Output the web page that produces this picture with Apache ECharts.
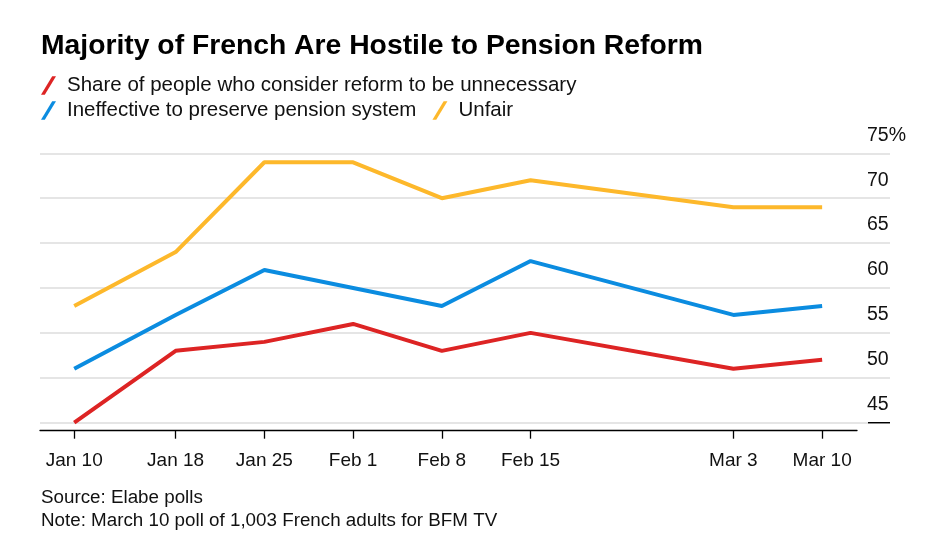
<!DOCTYPE html>
<html>
<head>
<meta charset="utf-8">
<script src="https://cdn.jsdelivr.net/npm/echarts@6/dist/echarts.min.js"></script>
<style>
html,body{margin:0;padding:0;background:#fff;}
#chart{width:941px;height:560px;}
</style>
</head>
<body>
<div id="chart"></div>
<script>
const dates = ['2023-01-10','2023-01-18','2023-01-25','2023-02-01','2023-02-08','2023-02-15','2023-03-03','2023-03-10'];
const dateLabels = ['Jan 10','Jan 18','Jan 25','Feb 1','Feb 8','Feb 15','Mar 3','Mar 10'];
const unnecessary = [45,53,54,56,53,55,51,52];
const ineffective = [51,57,62,60,58,63,57,58];
const unfair = [58,64,74,74,70,72,69,69];
const yTicks = [45,50,55,60,65,70,75];
const seriesNames = ['Share of people who consider reform to be unnecessary','Ineffective to preserve pension system','Unfair'];

const DAY = 86400000;
function toTime(s){ const p = s.split('-'); return Date.UTC(+p[0], +p[1]-1, +p[2]); }
const t0 = toTime(dates[0]);
const days = dates.map(s => Math.round((toTime(s)-t0)/DAY));   // day offsets from first poll
const pair = arr => days.map((d,i)=>[d, arr[i]]);
const labelOf = {}; days.forEach((d,i)=>{ labelOf[d]=dateLabels[i]; });

const FONT = '"Liberation Sans", Arial, sans-serif';
const slash = 'path://M0,16 L3.3,16 L13,0 L9.7,0 Z';
const colors = ['#dd2424','#0b8ce0','#fdb82b'];

const chart = echarts.init(document.getElementById('chart'), null, {renderer:'canvas'});
chart.setOption({
  animation:false,
  backgroundColor:'#ffffff',
  textStyle:{fontFamily:FONT},
  title:{
    text:'Majority of French Are Hostile to Pension Reform',
    left:41, top:32, padding:0,
    textStyle:{fontFamily:FONT, fontWeight:'bold', fontSize:28.3, color:'#000'}
  },
  legend:[
    {data:[seriesNames[0]], left:41, top:75, padding:0, itemWidth:15, itemHeight:19, icon:slash, itemGap:16,
     textStyle:{fontFamily:FONT, fontSize:20.5, color:'#111', padding:[0,0,0,6]}},
    {data:[seriesNames[1], seriesNames[2]], left:41, top:100, padding:0, itemWidth:15, itemHeight:19, icon:slash, itemGap:16,
     textStyle:{fontFamily:FONT, fontSize:20.5, color:'#111', padding:[0,0,0,6]}}
  ],
  grid:[
    {left:40, right:51, top:153.3, bottom:137.3},
    {left:40, right:84, top:153.3, bottom:137.3}
  ],
  xAxis:[
    {gridIndex:0, type:'value', min:0, max:1, show:false},
    {gridIndex:1, type:'value', min:days[0]-2.7, max:days[days.length-1]+2.75, offset:8,
     axisLine:{show:true, lineStyle:{color:'#000', width:1.3}},
     axisTick:{show:true, length:8, customValues:days, lineStyle:{color:'#000', width:1.3}},
     axisLabel:{customValues:days, margin:21, fontSize:19, color:'#111', fontFamily:FONT,
       formatter:function(v){ return labelOf[Math.round(v)] || ''; }},
     splitLine:{show:false}}
  ],
  yAxis:[
    {gridIndex:0, type:'value', min:45, max:75, interval:5, position:'right',
     axisLine:{show:false},
     axisTick:{show:false},
     splitLine:{show:true, lineStyle:{color:'#dcdcdc', width:1.5}},
     axisLabel:{inside:true, align:'left', margin:23, verticalAlign:'bottom', padding:[0,0,8,0],
       fontSize:19.5, color:'#111', fontFamily:FONT,
       formatter:function(v){ return v===75 ? v+'%' : String(v); }}},
    {gridIndex:1, type:'value', min:45, max:75, show:false, splitLine:{show:false}}
  ],
  series:[
    {name:seriesNames[0], type:'line', xAxisIndex:1, yAxisIndex:1, data:pair(unnecessary), showSymbol:false, symbol:'none',
     lineStyle:{color:colors[0], width:4}, itemStyle:{color:colors[0]}, z:3},
    {name:seriesNames[1], type:'line', xAxisIndex:1, yAxisIndex:1, data:pair(ineffective), showSymbol:false, symbol:'none',
     lineStyle:{color:colors[1], width:4}, itemStyle:{color:colors[1]}, z:3},
    {name:seriesNames[2], type:'line', xAxisIndex:1, yAxisIndex:1, data:pair(unfair), showSymbol:false, symbol:'none',
     lineStyle:{color:colors[2], width:4}, itemStyle:{color:colors[2]}, z:3}
  ],
  graphic:[
    {type:'line', shape:{x1:868, y1:422.7, x2:890, y2:422.7}, style:{stroke:'#000', lineWidth:1.4}, z:5},
    {type:'text', left:41, top:488, style:{text:'Source: Elabe polls', font:'18.8px '+FONT, fill:'#111'}},
    {type:'text', left:41, top:511, style:{text:'Note: March 10 poll of 1,003 French adults for BFM TV', font:'18.8px '+FONT, fill:'#111'}}
  ]
});
</script>
</body>
</html>
